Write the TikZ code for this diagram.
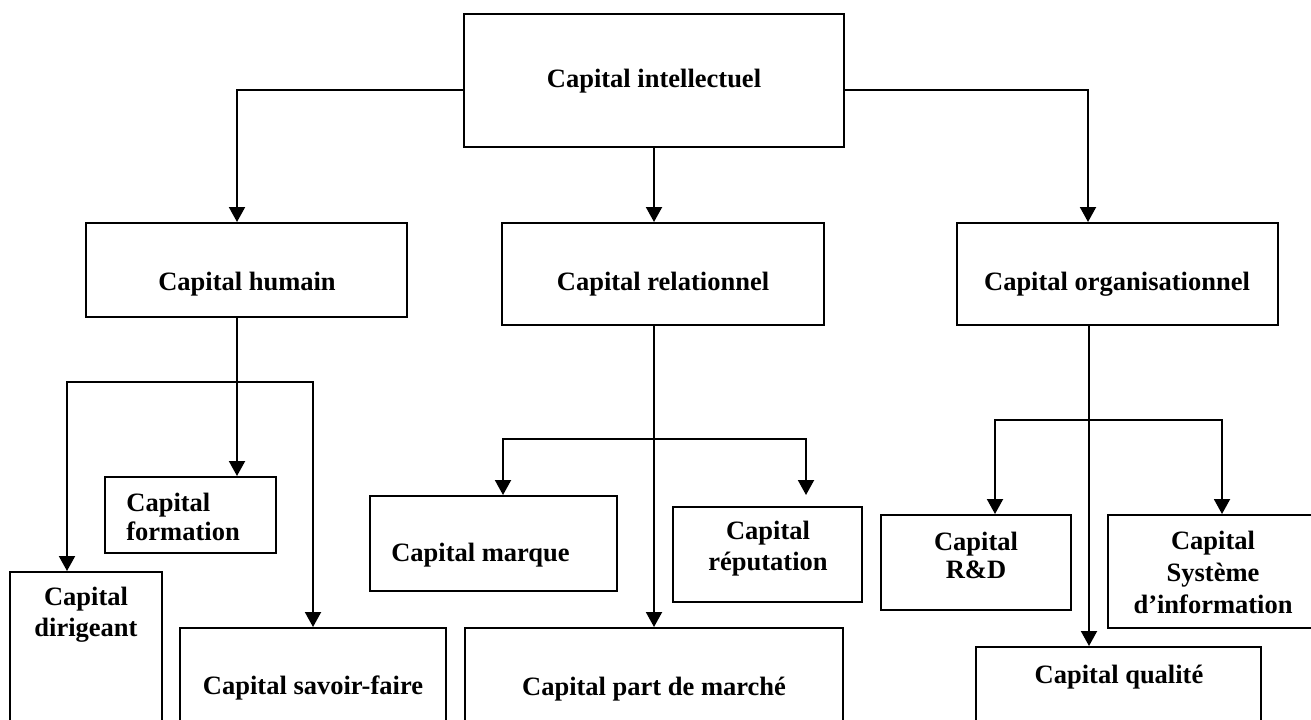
\documentclass[tikz,border=0pt]{standalone}
\usepackage{fontspec}
\setmainfont{Liberation Serif}
\usetikzlibrary{arrows.meta}
\begin{document}
\begin{tikzpicture}[x=0.5pt,y=-0.5pt,
  box/.style={draw=black,line width=1pt,rectangle,inner sep=0pt},
  lbl/.style={font=\bfseries\fontsize{13.25}{15.25}\selectfont,inner sep=0pt,anchor=base,align=center},
  tip/.tip={Triangle[length=7.5pt,width=8pt]},
  arr/.style={line width=1pt,-tip},
  darr/.style={line width=1pt,tip-tip}]
\useasboundingbox (0,0) rectangle (1311,719);
\clip (0,0) rectangle (1311,719);

% boxes
\node[box,minimum width=190pt,minimum height=66.5pt] (int) at (654,80.5) {};
\node[box,minimum width=160.5pt,minimum height=47pt] (hum) at (246.5,270) {};
\node[box,minimum width=161pt,minimum height=51pt] (rel) at (663,274) {};
\node[box,minimum width=160.5pt,minimum height=51pt] (org) at (1117.5,274) {};
\node[box,minimum width=85.5pt,minimum height=38pt] (form) at (190.5,515) {};
\node[box,minimum width=76pt,minimum height=94pt] (dir) at (86,666) {};
\node[box,minimum width=133pt,minimum height=66pt] (sav) at (313,694) {};
\node[box,minimum width=123.5pt,minimum height=47.5pt] (marq) at (493.5,543.5) {};
\node[box,minimum width=94.5pt,minimum height=47.5pt] (rep) at (767.5,554.5) {};
\node[box,minimum width=189pt,minimum height=66pt] (pdm) at (654,694) {};
\node[box,minimum width=95pt,minimum height=47.5pt] (rd) at (976,562.5) {};
\node[box,minimum width=106pt,minimum height=56.5pt] (sys) at (1214,571.5) {};
\node[box,minimum width=142.5pt,minimum height=56.5pt] (qual) at (1118.5,703.5) {};

% labels (multi-line: anchor is the baseline of the last line)
\node[lbl] (tint) at (654,87) {Capital intellectuel};
\node[lbl] (thum) at (247,290) {Capital humain};
\node[lbl] (trel) at (663,290) {Capital relationnel};
\node[lbl] (torg) at (1117,290) {Capital organisationnel};
\node[lbl,anchor=base west,align=left,font=\bfseries\fontsize{13.25}{14.5}\selectfont] (tform) at (126,540) {Capital\\formation};
\node[lbl] (tdir) at (86,636) {Capital\\dirigeant};
\node[lbl] (tsav) at (313,694) {Capital savoir-faire};
\node[lbl] (tmarq) at (480.5,561) {Capital marque};
\node[lbl] (trep) at (768,570) {Capital\\réputation};
\node[lbl] (tpdm) at (654,695) {Capital part de marché};
\node[lbl,font=\bfseries\fontsize{13.25}{14}\selectfont] (trd) at (976,578) {Capital\\R\&D};
\node[lbl,font=\bfseries\fontsize{13.25}{15.9}\selectfont] (tsys) at (1213,613) {Capital\\Système\\d’information};
\node[lbl] (tqual) at (1119,683) {Capital qualité};

% junction coordinates
\coordinate (jL) at (237,90);
\coordinate (jR) at (1088,90);
\coordinate (hL) at (67,382);
\coordinate (hR) at (313,382);
\coordinate (rL) at (503,439);
\coordinate (rR) at (806,439);
\coordinate (rRe) at (806,495);
\coordinate (oV) at (1089,420);
\coordinate (oL) at (995,420);
\coordinate (oR) at (1222,420);

% connectors from top
\draw[arr] (int.west |- jL) -- (jL) -- (jL |- hum.north);
\draw[arr] (int.east |- jR) -- (jR) -- (jR |- org.north);
\draw[arr] (int.south) -- (int.south |- rel.north);

% humain
\draw[arr] (jL |- hum.south) -- (jL |- form.north);
\draw[darr] (hL |- dir.north) -- (hL) -- (hR) -- (hR |- sav.north);

% relationnel
\draw[arr] (pdm.north |- rel.south) -- (pdm.north);
\draw[darr] (rL |- marq.north) -- (rL) -- (rR) -- (rRe);

% organisationnel
\draw[arr] (oV |- org.south) -- (oV |- qual.north);
\draw[darr] (oL |- rd.north) -- (oL) -- (oR) -- (oR |- sys.north);
\end{tikzpicture}
\end{document}
